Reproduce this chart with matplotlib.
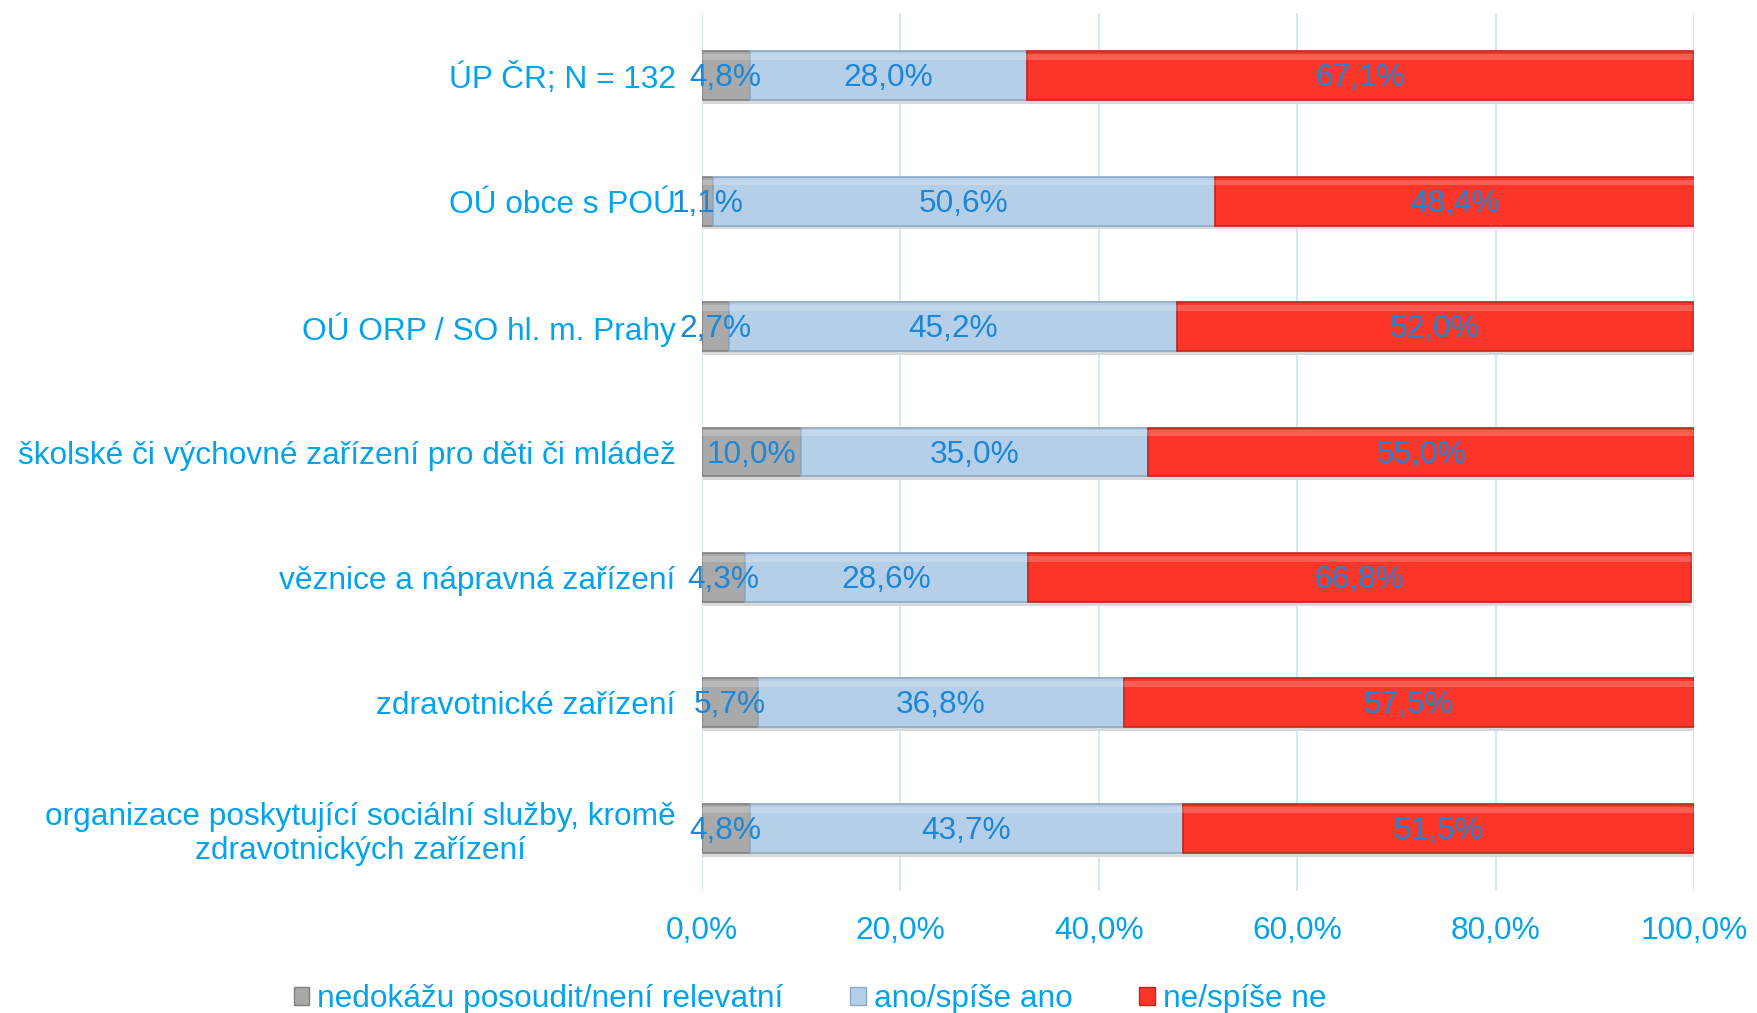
import matplotlib
matplotlib.use("Agg")
import matplotlib.pyplot as plt
import numpy as np
from matplotlib.patches import Patch

categories = [
    "ÚP ČR; N = 132",
    "OÚ obce s POÚ",
    "OÚ ORP / SO hl. m. Prahy",
    "školské či výchovné zařízení pro děti či mládež",
    "věznice a nápravná zařízení",
    "zdravotnické zařízení",
    "organizace poskytující sociální služby, kromě\nzdravotnických zařízení",
]
series_names = ["nedokážu posoudit/není relevatní", "ano/spíše ano", "ne/spíše ne"]
nedokazu = [4.8, 1.1, 2.7, 10.0, 4.3, 5.7, 4.8]
ano = [28.0, 50.6, 45.2, 35.0, 28.6, 36.8, 43.7]
ne = [67.1, 48.4, 52.0, 55.0, 66.8, 57.5, 51.5]
xticks = [0, 20, 40, 60, 80, 100]

plt.rcParams['font.family'] = ['Liberation Sans', 'DejaVu Sans']
label_color = "#00a3ec"
value_color = "#1b87d6"
colors = ["#a9a9a9", "#b6cfe8", "#fb3528"]
edge_colors = ["#7f7f7f", "#8fa9c4", "#c0261c"]
FS = 22.8

fig = plt.figure(figsize=(17.57, 10.13), dpi=100)
ax = fig.add_axes([0.3995, 0.1204, 0.5646, 0.8668])

y = np.arange(len(categories))
h = 0.39
left = np.zeros(len(categories))
data = [nedokazu, ano, ne]
for vals, c, ec, name in zip(data, colors, edge_colors, series_names):
    vals = np.array(vals)
    ax.barh(y + 0.03, vals, left=left, height=h, color="#d9d9d9", zorder=1.5, linewidth=0)
    ax.barh(y, vals, left=left, height=h, color=c, edgecolor=ec, linewidth=1.2, zorder=2, label=name)
    ax.barh(y - h * 0.38, vals, left=left, height=h * 0.12, color="white", alpha=0.2, linewidth=0, zorder=2.5)
    for yi, l, v in zip(y, left, vals):
        ax.text(l + v / 2, yi + 0.02, f"{v:.1f}%".replace(".", ","), ha="center", va="center",
                color=value_color, fontsize=FS, zorder=3)
    left = left + vals

ax.set_xlim(0, 100)
ax.set_ylim(len(categories) - 0.5, -0.5)
ax.set_yticks(y)
ax.set_yticklabels(categories, fontsize=FS, color=label_color, multialignment="center")
ax.set_xticks(xticks)
ax.set_xticklabels([f"{t:.1f}%".replace(".", ",") for t in xticks], fontsize=FS, color=label_color)
ax.tick_params(axis="both", length=0)
ax.tick_params(axis="y", pad=19)
ax.tick_params(axis="x", pad=18)
for s in ax.spines.values():
    s.set_visible(False)
ax.grid(axis="x", color="#c8e6f8", linewidth=1.2, zorder=0)
ax.set_axisbelow(True)

handles = [Patch(facecolor=c, edgecolor=ec) for c, ec in zip(colors, edge_colors)]
fig.legend(handles, series_names, loc="center", bbox_to_anchor=(0.461, 0.0135), ncol=3,
           frameon=False, fontsize=FS, labelcolor=label_color, handlelength=0.5,
           handleheight=0.5, handletextpad=0.25, columnspacing=2.1, borderpad=0)

fig.savefig("out.png", dpi=100)
